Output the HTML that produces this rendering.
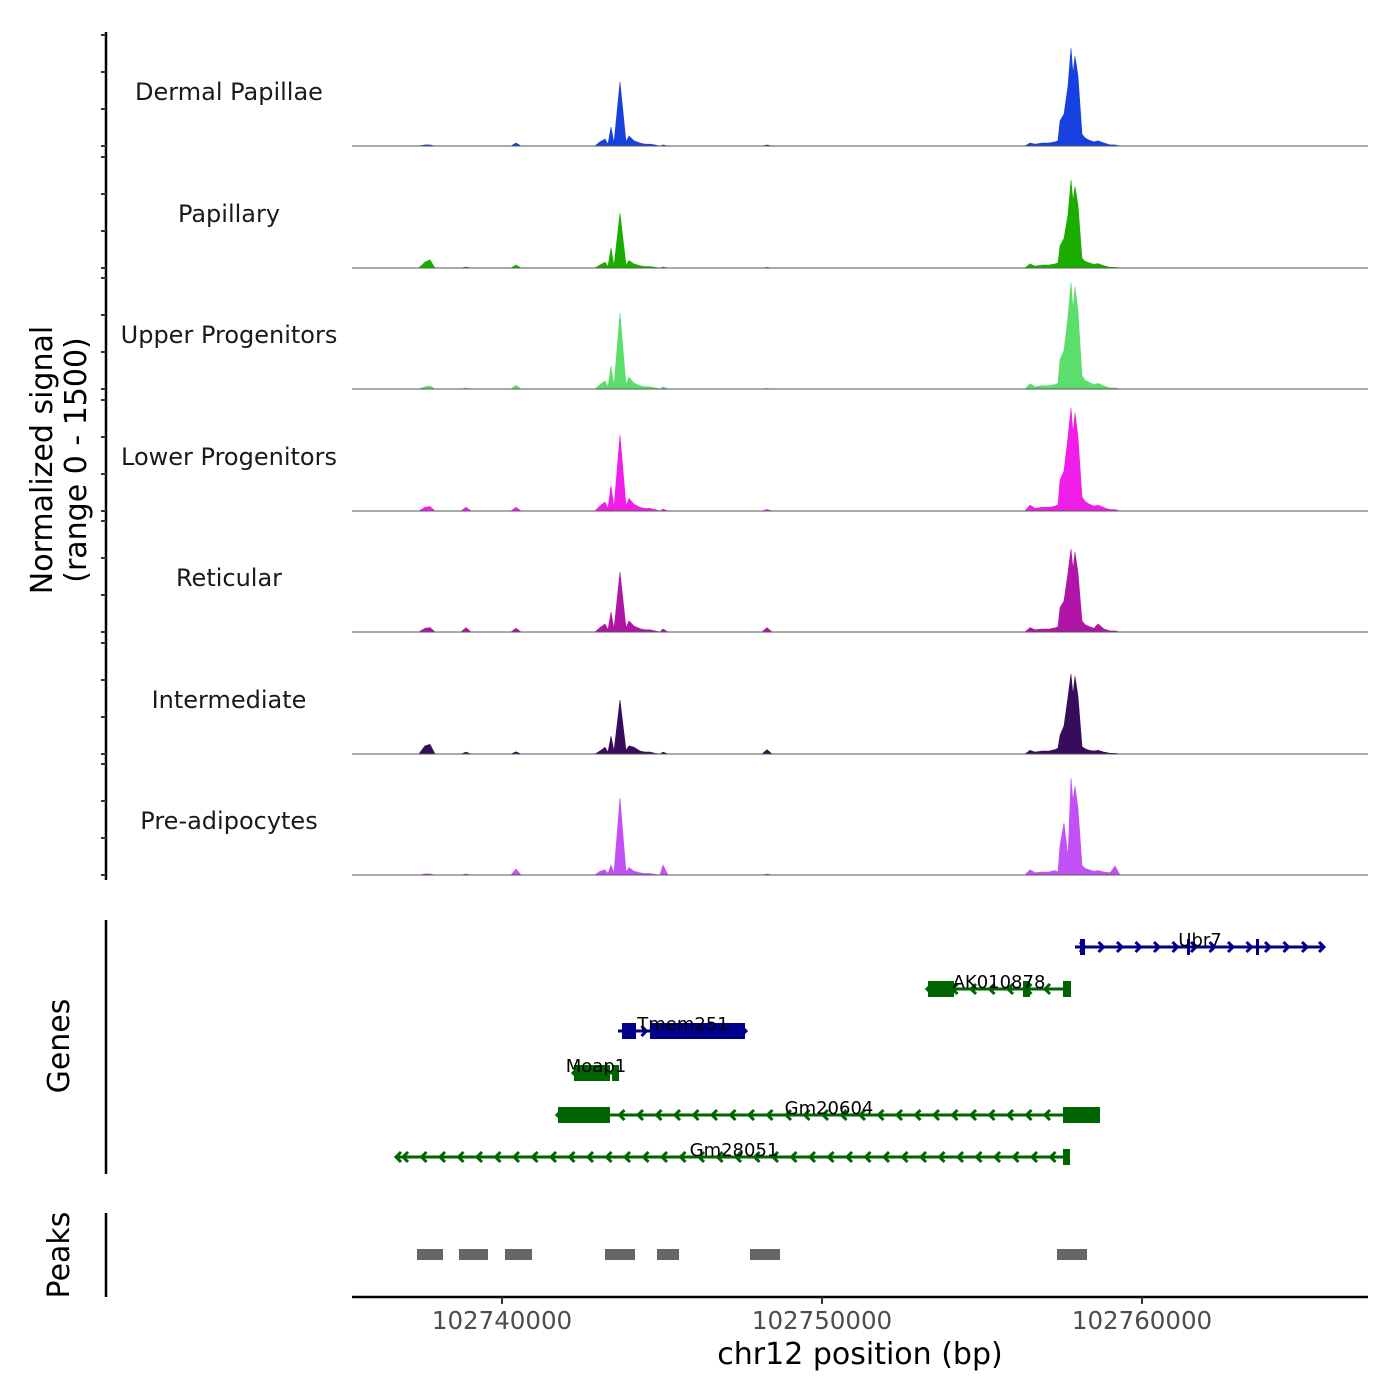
<!DOCTYPE html>
<html><head><meta charset="utf-8"><style>
html,body{margin:0;padding:0;background:#fff;}
svg{display:block;font-family:"DejaVu Sans","Liberation Sans",sans-serif;}
</style></head><body>
<svg id="chart" width="1400" height="1400" viewBox="0 0 1400 1400" xmlns="http://www.w3.org/2000/svg"></svg>
<script>
const positions=[102735312,102737400,102737594,102737750,102737906,102738719,102738875,102739031,102740281,102740437,102740594,102742906,102743062,102743219,102743312,102743406,102743500,102743687,102743875,102743969,102744125,102744312,102744469,102744625,102744781,102744937,102745031,102745187,102748125,102748281,102748437,102756344,102756500,102756656,102756875,102757094,102757281,102757375,102757437,102757562,102757687,102757781,102757844,102757906,102758000,102758125,102758219,102758344,102758500,102758625,102758812,102759000,102759156,102759312,102767062];
const trackNames=["Dermal Papillae","Papillary","Upper Progenitors","Lower Progenitors","Reticular","Intermediate","Pre-adipocytes"];
const trackColors=["#1641de","#1aad00","#5bde6b","#f01ee8","#b115a8","#380c5c","#c150f5"];
const dermalPapillae=[0,0,15,15,0,0,0,0,0,40,0,0,55,95,25,255,40,865,55,135,70,40,25,25,15,0,15,0,0,15,0,0,40,25,40,40,55,70,340,430,810,1320,970,1215,945,160,110,80,55,70,40,15,15,0,0];
const papillary=[0,0,80,110,0,0,15,0,0,40,0,0,40,80,20,270,30,740,40,100,55,30,20,20,10,0,15,0,0,10,0,0,55,25,40,40,55,70,300,400,720,1190,900,1100,850,130,90,70,50,60,30,10,10,0,0];
const upperProgenitors=[0,0,30,40,0,0,15,0,0,50,0,0,60,110,30,310,45,1025,60,160,80,45,30,30,15,0,30,0,0,10,0,0,70,30,45,45,60,80,400,520,980,1440,1080,1380,1050,180,120,90,60,75,40,15,15,0,0];
const lowerProgenitors=[0,0,50,60,0,0,50,0,0,50,0,0,70,120,35,340,50,1025,70,170,90,50,35,35,20,0,25,0,0,20,0,0,80,35,50,50,65,85,420,540,1000,1390,1050,1330,1000,190,130,95,65,80,45,20,20,0,0];
const reticular=[0,0,50,60,0,0,60,0,0,50,0,0,60,110,30,270,45,810,60,150,80,45,30,30,15,0,40,0,0,60,0,0,60,30,40,40,55,70,330,420,800,1120,850,1080,800,150,100,75,50,110,40,15,15,0,0];
const intermediate=[0,0,110,130,0,0,25,0,0,30,0,0,40,90,25,240,40,730,50,110,90,40,25,25,10,0,25,0,0,60,0,0,50,25,40,40,60,80,250,380,770,1080,800,1050,780,100,70,50,40,50,25,10,10,0,0];
const preAdipocytes=[0,0,15,15,0,0,15,0,0,80,0,0,50,70,20,135,30,1040,40,100,50,30,20,20,10,0,135,0,0,15,0,0,70,30,40,40,60,40,400,700,250,1310,1000,1200,900,130,90,70,50,60,40,30,120,0,0];
const trackValues=[dermalPapillae,papillary,upperProgenitors,lowerProgenitors,reticular,intermediate,preAdipocytes];
const xTicks=[102740000,102750000,102760000];
const yRange=[0,1500];
const geneNames=["Ubr7","AK010878","Tmem251","Moap1","Gm20604","Gm28051"];
const geneStrand=["+","-","+","-","-","-"];
const geneStart=[102757906,102753312,102743624,102742249,102741749,102736718];
const geneEnd=[102765656,102757749,102747593,102743656,102758687,102757749];
const geneExons=[[[102758062,102758218],[102761406,102761500],[102763562,102763625]],[[102753312,102754124],[102756281,102756499],[102757531,102757781]],[[102743749,102744187],[102744624,102747593]],[[102742249,102743374],[102743437,102743656]],[[102741749,102743374],[102757531,102758687]],[[102757531,102757749]]];
const peakStart=[102737343,102738656,102740093,102743218,102744843,102747749,102757343];
const peakEnd=[102738156,102739562,102740937,102744156,102745531,102748687,102758281];

const NS="http://www.w3.org/2000/svg";
const svg=document.getElementById('chart');
const X0=352,X1=1368,BP0=102735312,BP1=102767062;
function xs(bp){return X0+(bp-BP0)/(BP1-BP0)*(X1-X0);}
function mk(tag,attrs,parent){const e=document.createElementNS(NS,tag);for(const k in attrs)e.setAttribute(k,attrs[k]);(parent||svg).appendChild(e);return e;}
const baseY=[146,268,389,511,632,754,875];
const panelH=111;
let ax=mk('line',{x1:106,y1:32,x2:106,y2:880,stroke:'#000','stroke-width':2.5});

for(let t=0;t<7;t++){
  const g=mk('g',{});
  
  
  const by=baseY[t];
  function ys(v){return by-(v-yRange[0])/(yRange[1]-yRange[0])*panelH;}
  for(let k=0;k<4;k++){
    const tv=yRange[0]+k*(yRange[1]-yRange[0])/3;
    const tk=mk('line',{x1:101,x2:106,y1:ys(tv),y2:ys(tv),stroke:'#333','stroke-width':2},g);
    
  }
  let d='M'+xs(positions[0])+','+by;
  const vals=trackValues[t];
  for(let i=0;i<positions.length;i++)d+=' L'+xs(positions[i]).toFixed(1)+','+ys(vals[i]).toFixed(1);
  d+=' L'+xs(positions[positions.length-1])+','+by+' Z';
  const p=mk('path',{d:d,fill:trackColors[t],stroke:trackColors[t],'stroke-width':0.6},g);
  
  const bl=mk('line',{x1:X0,x2:X1,y1:by,y2:by,stroke:'#555','stroke-width':1},g);
  
  const lb=mk('text',{x:229,y:by-46,'text-anchor':'middle','font-size':24,fill:'#1a1a1a'},g);
  lb.textContent=trackNames[t];
  
}
function rtext(txt,x,y,name){const t=mk('text',{x:x,y:y,'text-anchor':'middle','font-size':30,fill:'#000',transform:'rotate(-90 '+x+' '+y+')'});t.textContent=txt;return t;}
rtext('Normalized signal',52,460,'y-axis-title');
rtext('(range 0 - 1500)',86,460,'y-axis-range');
let ga=mk('line',{x1:106,y1:920,x2:106,y2:1174,stroke:'#000','stroke-width':2.5});

rtext('Genes',69,1046,'genes-title');
const geneY=[947,989,1031,1073,1115,1157];
const labelX=[1200,999,683,596,829,734];
for(let g=0;g<geneNames.length;g++){
  const grp=mk('g',{});
  
  
  const col=geneStrand[g]=='+'?'#00008b':'#006400';
  const y=geneY[g],a=xs(geneStart[g]),b=xs(geneEnd[g]);
  mk('line',{x1:a,x2:b,y1:y,y2:y,stroke:col,'stroke-width':3},grp);
  for(let x=a+8;x<b-2;x+=18.5){
    const d=geneStrand[g]=='+'?`M${x-3},${y-5} L${x+2},${y} L${x-3},${y+5}`:`M${x+3},${y-5} L${x-2},${y} L${x+3},${y+5}`;
    mk('path',{d:d,fill:'none',stroke:col,'stroke-width':3},grp);
  }
  const ed=geneStrand[g]=='+'?`M${b-4},${y-5} L${b+1},${y} L${b-4},${y+5}`:`M${a+4},${y-5} L${a-1},${y} L${a+4},${y+5}`;
  mk('path',{d:ed,fill:'none',stroke:col,'stroke-width':3},grp);
  for(const ex of geneExons[g]){
    const r=mk('rect',{x:xs(ex[0]),y:y-8,width:Math.max(3,xs(ex[1])-xs(ex[0])),height:16,fill:col},grp);
    
  }
  const t=mk('text',{x:labelX[g],y:y-1,'text-anchor':'middle','font-size':18,fill:'#000'},grp);
  t.textContent=geneNames[g];
}
let pa=mk('line',{x1:106,y1:1213,x2:106,y2:1297,stroke:'#000','stroke-width':2.5});

rtext('Peaks',69,1255,'peaks-title');
for(let i=0;i<peakStart.length;i++){
  const r=mk('rect',{x:xs(peakStart[i]),y:1249,width:xs(peakEnd[i])-xs(peakStart[i]),height:11,fill:'#666'});
  
}
let xa=mk('line',{x1:X0,x2:X1,y1:1297,y2:1297,stroke:'#000','stroke-width':2.5});

for(const tv of xTicks){
  const tk=mk('line',{x1:xs(tv),x2:xs(tv),y1:1297,y2:1304,stroke:'#333','stroke-width':2});
  
  const t=mk('text',{x:xs(tv),y:1329,'text-anchor':'middle','font-size':24.5,fill:'#4d4d4d'});
  t.textContent=String(tv);
}
const xt=mk('text',{x:860,y:1364,'text-anchor':'middle','font-size':30,fill:'#000'});
xt.textContent='chr12 position (bp)';

</script>
</body></html>
